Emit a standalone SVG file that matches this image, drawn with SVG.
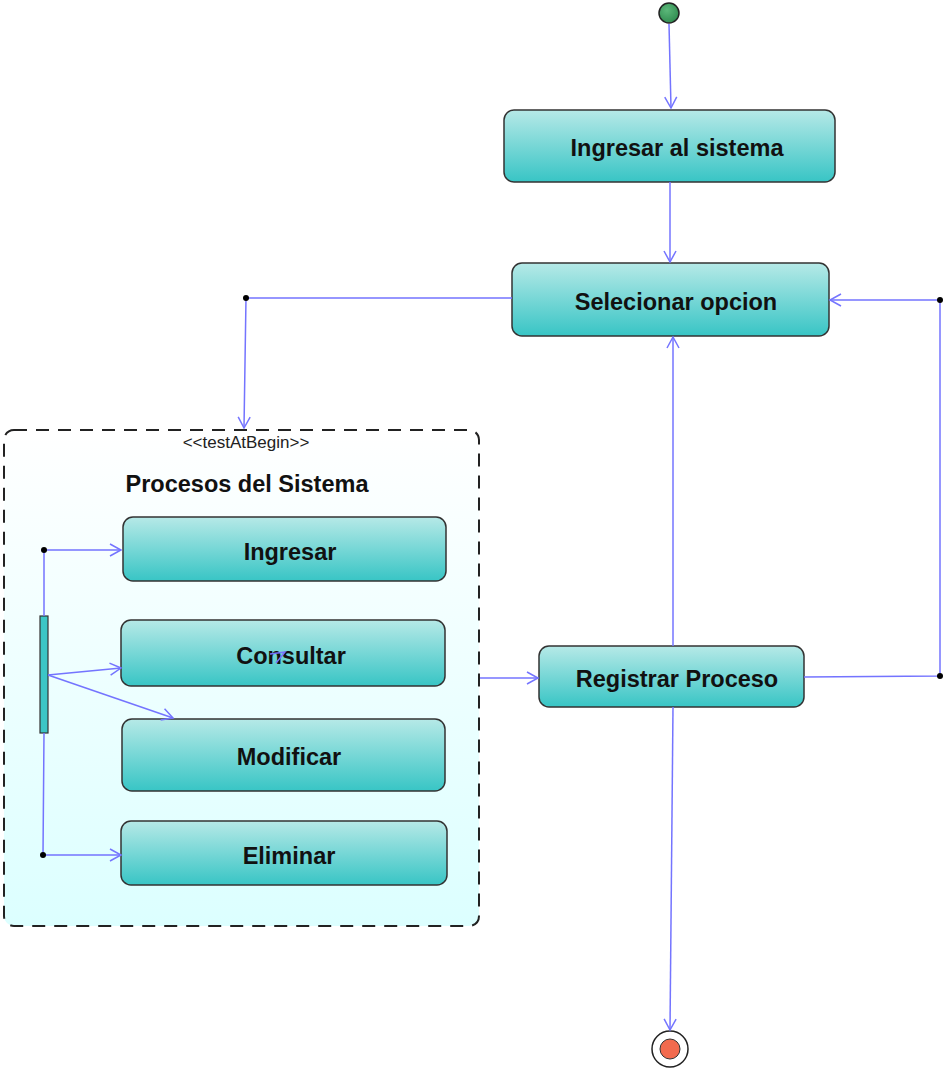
<svg xmlns="http://www.w3.org/2000/svg" width="947" height="1071" viewBox="0 0 947 1071">
<defs>
<linearGradient id="ng" x1="0" y1="0" x2="0" y2="1">
<stop offset="0" stop-color="#b6e9e7"/>
<stop offset="1" stop-color="#38c5c5"/>
</linearGradient>
<linearGradient id="cg" x1="0" y1="0" x2="0" y2="1">
<stop offset="0" stop-color="#ffffff"/>
<stop offset="1" stop-color="#dcffff"/>
</linearGradient>
<radialGradient id="gg" cx="0.4" cy="0.35" r="0.7">
<stop offset="0" stop-color="#5cb87a"/>
<stop offset="1" stop-color="#2e8a4e"/>
</radialGradient>
<marker id="ah" markerWidth="14" markerHeight="14" refX="12" refY="7" orient="auto" markerUnits="userSpaceOnUse">
<path d="M1,1 L12,7 L1,13" fill="none" stroke="#7474ff" stroke-width="1.5"/>
</marker>
</defs>
<style>
.node{fill:url(#ng);stroke:#333;stroke-width:1.5}
.lbl{font-family:"Liberation Sans",Arial,sans-serif;font-weight:bold;font-size:23.5px;fill:#111;text-anchor:middle}
.con{fill:none;stroke:#7474ff;stroke-width:1.5}
.arr{marker-end:url(#ah)}
.dot{fill:#000}
</style>

<g id="container">
<rect x="4" y="430" width="475" height="496" rx="10" fill="url(#cg)" stroke="#222" stroke-width="2" stroke-dasharray="13,9"/>
<text x="246" y="448" font-family="'Liberation Sans',Arial,sans-serif" font-size="17" fill="#222" text-anchor="middle">&lt;&lt;testAtBegin&gt;&gt;</text>
<text x="247" y="492" class="lbl">Procesos del Sistema</text>
</g>

<g id="start"><circle cx="669" cy="13" r="10" fill="url(#gg)" stroke="#222" stroke-width="1.5"/></g>

<g id="ingresar_sistema"><rect class="node" x="504" y="110" width="331" height="72" rx="10"/><text class="lbl" x="677" y="156">Ingresar al sistema</text></g>
<g id="selecionar"><rect class="node" x="512" y="263" width="317" height="73" rx="10"/><text class="lbl" x="676" y="310">Selecionar opcion</text></g>
<g id="ingresar"><rect class="node" x="123" y="517" width="323" height="64" rx="10"/><text class="lbl" x="290" y="560">Ingresar</text></g>
<g id="consultar"><rect class="node" x="121" y="620" width="324" height="66" rx="10"/><text class="lbl" x="291" y="664">Consultar</text></g>
<g id="modificar"><rect class="node" x="122" y="719" width="323" height="72" rx="10"/><text class="lbl" x="289" y="765">Modificar</text></g>
<g id="eliminar"><rect class="node" x="121" y="821" width="326" height="64" rx="10"/><text class="lbl" x="289" y="864">Eliminar</text></g>
<g id="registrar"><rect class="node" x="539" y="646" width="265" height="61" rx="10"/><text class="lbl" x="677" y="687">Registrar Proceso</text></g>
<g id="fork"><rect x="40" y="616" width="8" height="117" fill="#3cc6c6" stroke="#333" stroke-width="1.2"/></g>
<g id="end"><circle cx="670" cy="1049" r="18" fill="#fff" stroke="#222" stroke-width="1.5"/><circle cx="670" cy="1049" r="10" fill="#f26a4e" stroke="#333" stroke-width="1"/></g>

<g id="connectors">
<path class="con arr" d="M669,24 L671,108"/>
<path class="con arr" d="M670,182 L670,262"/>
<path class="con arr" d="M512,298 L246,298 L244,428"/>
<path class="con arr" d="M804,677 L940,676 L940,300 L830,300"/>
<path class="con arr" d="M673,646 L673,337"/>
<path class="con arr" d="M480,678 L538,678"/>
<path class="con arr" d="M673,707 L670,1030"/>
<path class="con arr" d="M44,616 L44,550 L121,550"/>
<path class="con arr" d="M48,675 L121,668"/>
<path class="con arr" d="M48,675 L173,718"/>
<path class="con arr" d="M44,733 L43,855 L121,855"/>
<path class="con" d="M270,654 L285,652 L276,663"/>
<circle class="dot" cx="246" cy="298" r="3"/>
<circle class="dot" cx="940" cy="676" r="3"/>
<circle class="dot" cx="940" cy="300" r="3"/>
<circle class="dot" cx="44" cy="550" r="3"/>
<circle class="dot" cx="43" cy="855" r="3"/>
</g>
</svg>
